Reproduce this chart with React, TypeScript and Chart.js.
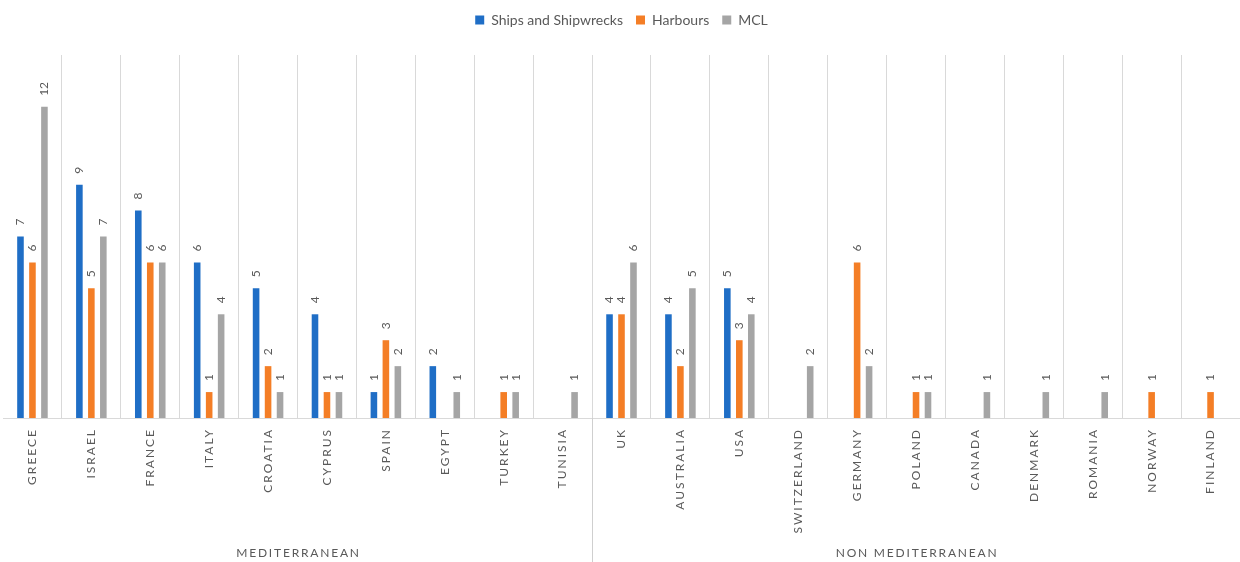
import React, { useEffect, useRef } from 'react';
import { Chart, registerables } from 'chart.js';

Chart.register(...registerables);

const categories = [
  'GREECE', 'ISRAEL', 'FRANCE', 'ITALY', 'CROATIA', 'CYPRUS', 'SPAIN', 'EGYPT', 'TURKEY', 'TUNISIA',
  'UK', 'AUSTRALIA', 'USA', 'SWITZERLAND', 'GERMANY', 'POLAND', 'CANADA', 'DENMARK', 'ROMANIA', 'NORWAY', 'FINLAND',
];
const groupNames = ['MEDITERRANEAN', 'NON MEDITERRANEAN'];
const groupSizes = [10, 11];

const seriesNames = ['Ships and Shipwrecks', 'Harbours', 'MCL'];
const shipsValues = [7, 9, 8, 6, 5, 4, 1, 2, 0, 0, 4, 4, 5, 0, 0, 0, 0, 0, 0, 0, 0];
const harboursValues = [6, 5, 6, 1, 2, 1, 3, 0, 1, 0, 4, 2, 3, 0, 6, 1, 0, 0, 0, 1, 1];
const mclValues = [12, 7, 6, 4, 1, 1, 2, 1, 1, 1, 6, 5, 4, 2, 2, 1, 1, 1, 1, 0, 0];
const seriesColors = ['#1F6EC6', '#F47E26', '#A5A5A5'];

const FONT = 'Lato, "Open Sans", sans-serif';
const TEXT = '#595959';
const GRID = '#D9D9D9';

const labelsPlugin = {
  id: 'customLabels',
  beforeLayout(chart: any) {
    const lg = chart.legend;
    if (lg && !lg.__patched) {
      const orig = lg.fit;
      lg.fit = function () {
        orig.call(this);
        this.height += 18;
      };
      lg.__patched = true;
    }
  },
  afterDatasetsDraw(chart: any) {
    const ctx = chart.ctx;
    ctx.save();
    ctx.font = `12px ${FONT}`;
    ctx.fillStyle = TEXT;
    ctx.textAlign = 'left';
    ctx.textBaseline = 'middle';
    chart.data.datasets.forEach((ds: any, di: number) => {
      const meta = chart.getDatasetMeta(di);
      meta.data.forEach((el: any, i: number) => {
        const v = ds.data[i];
        if (!v) return;
        ctx.save();
        ctx.translate(el.x, el.y - 11);
        ctx.rotate(-Math.PI / 2);
        ctx.fillText(String(v), 0, 0);
        ctx.restore();
      });
    });
    ctx.restore();
  },
  afterDraw(chart: any) {
    const ctx = chart.ctx;
    const xs = chart.scales.x;
    const area = chart.chartArea;
    ctx.save();
    ctx.fillStyle = TEXT;
    ctx.font = `12px ${FONT}`;
    (ctx as any).letterSpacing = '2px';
    ctx.textBaseline = 'middle';
    ctx.textAlign = 'right';
    categories.forEach((c, i) => {
      const x = xs.getPixelForValue(i);
      ctx.save();
      ctx.translate(x, area.bottom + 10);
      ctx.rotate(-Math.PI / 2);
      ctx.fillText(c, 0, 0);
      ctx.restore();
    });
    // group labels and separators
    let start = 0;
    const bounds: number[] = [area.left];
    groupSizes.forEach((n) => {
      start += n;
      if (start < categories.length) {
        bounds.push((xs.getPixelForValue(start - 1) + xs.getPixelForValue(start)) / 2);
      } else {
        bounds.push(area.right);
      }
    });
    ctx.textAlign = 'center';
    ctx.font = `12px ${FONT}`;
    (ctx as any).letterSpacing = '1.8px';
    groupNames.forEach((g, gi) => {
      const cx = (bounds[gi] + bounds[gi + 1]) / 2;
      ctx.fillText(g, cx + 1, 553);
    });
    ctx.strokeStyle = '#CFCFCF';
    ctx.lineWidth = 1;
    for (let b = 1; b < bounds.length - 1; b++) {
      const x = Math.round(bounds[b]) + 0.5;
      ctx.beginPath();
      ctx.moveTo(x, area.bottom);
      ctx.lineTo(x, chart.height);
      ctx.stroke();
    }
    ctx.restore();
  },
};

export default function App() {
  const ref = useRef<HTMLCanvasElement>(null);
  useEffect(() => {
    document.body.style.margin = '0';
    const canvas = ref.current;
    if (!canvas) return;
    const chart = new Chart(canvas, {
      type: 'bar',
      data: {
        labels: categories,
        datasets: [shipsValues, harboursValues, mclValues].map((d, i) => ({
          label: seriesNames[i],
          data: d,
          backgroundColor: seriesColors[i],
          borderWidth: 0,
          categoryPercentage: 0.61,
          barPercentage: 0.55,
        })),
      },
      options: {
        responsive: false,
        animation: false,
        devicePixelRatio: 1,
        layout: { padding: { left: 3, right: 0, top: 0, bottom: 0 } },
        plugins: {
          legend: {
            position: 'top',
            labels: {
              boxWidth: 9,
              boxHeight: 9,
              padding: 13,
              color: TEXT,
              font: { family: FONT, size: 14 },
            },
          },
          tooltip: { enabled: false },
        },
        scales: {
          x: {
            grid: {
              color: (c: any) => (c.index === 0 ? 'rgba(0,0,0,0)' : GRID),
              drawTicks: false,
              lineWidth: 1,
            },
            border: { display: true, color: GRID },
            ticks: { display: false },
            afterFit: (s: any) => {
              s.height = 144;
            },
          },
          y: {
            display: false,
            min: 0,
            max: 14,
          },
        },
      },
      plugins: [labelsPlugin],
    } as any);
    return () => chart.destroy();
  }, []);
  return (
    <div style={{ width: 1240, height: 562, overflow: 'hidden', background: '#fff' }}>
      <canvas ref={ref} width={1240} height={562} style={{ display: 'block' }} />
    </div>
  );
}
